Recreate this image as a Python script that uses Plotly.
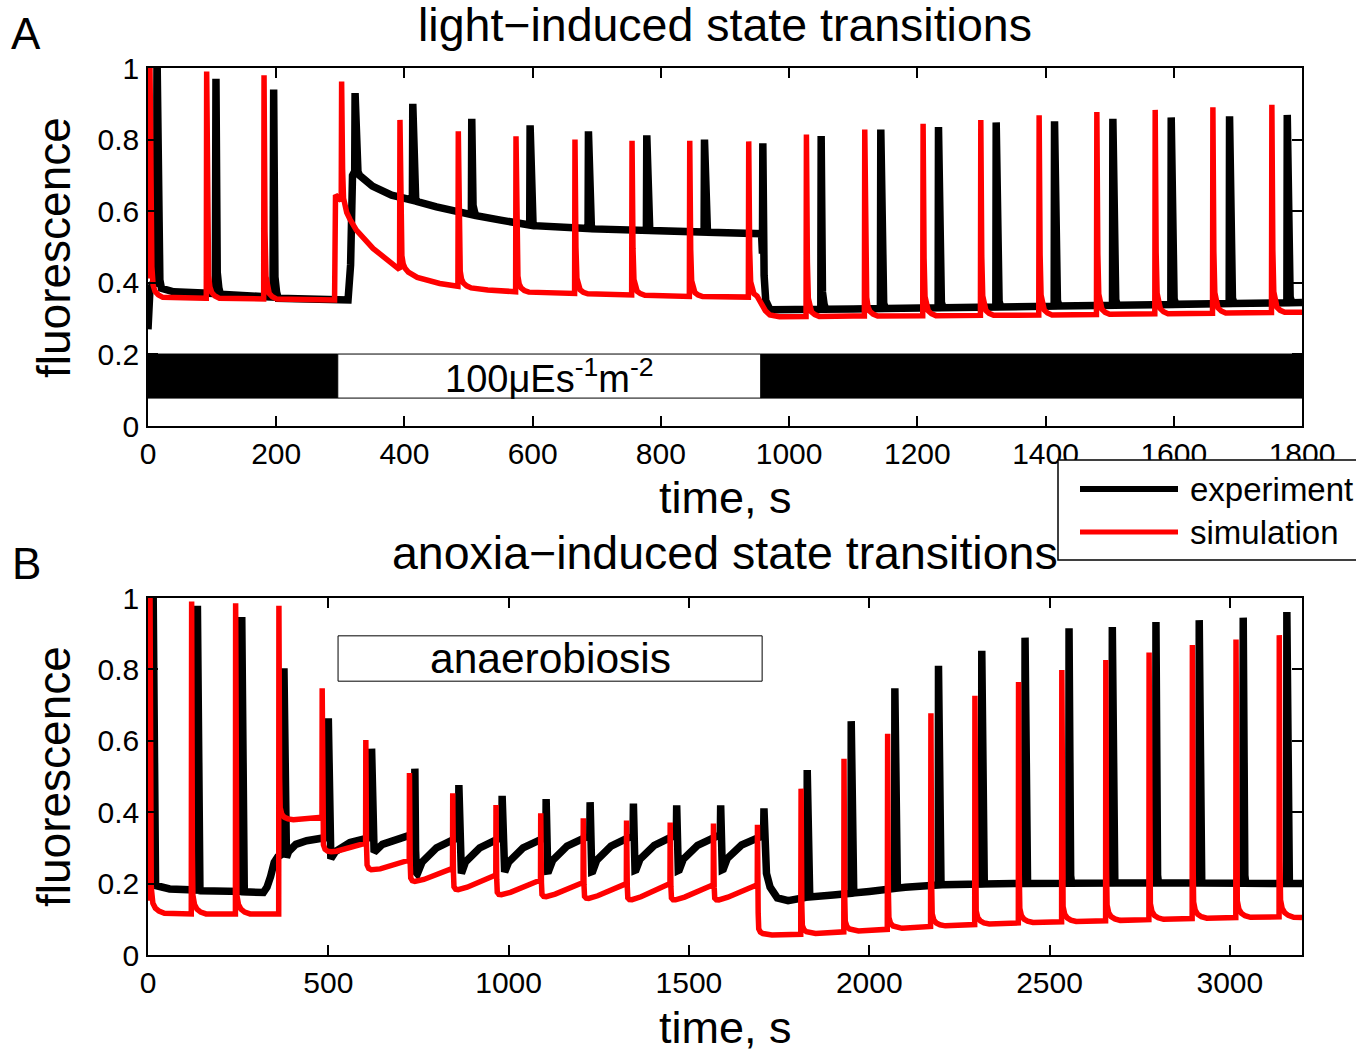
import numpy as np
import plotly.graph_objects as go

# ---------------- data ----------------
# Panel A: light-induced state transitions
A_EXP_BASE_T = [0, 3, 8, 13, 20, 40, 105, 110, 195, 200, 312, 316, 319, 322, 330, 350, 380, 410, 450, 505,
                550, 600, 700, 800, 900, 957, 962, 970, 1100, 1300, 1500, 1800]
A_EXP_BASE_V = [0.27, 0.38, 0.40, 0.40, 0.385, 0.375, 0.37, 0.368, 0.36, 0.357, 0.352, 0.45, 0.70, 0.71, 0.70,
                0.67, 0.645, 0.632, 0.612, 0.59, 0.575, 0.56, 0.55, 0.545, 0.54, 0.537, 0.34, 0.325, 0.327,
                0.332, 0.337, 0.345]
A_EXP_PULSE_T = [14, 106, 196, 323, 413, 505, 596, 687, 778, 868, 959, 1050, 1143, 1233, 1323, 1414, 1505,
                 1596, 1687, 1777]
A_EXP_PULSE_PEAK = [1.05, 0.97, 0.94, 0.93, 0.90, 0.858, 0.84, 0.823, 0.812, 0.80, 0.79, 0.81, 0.828, 0.835,
                    0.848, 0.851, 0.858, 0.862, 0.865, 0.869]

A_SIM_BASE_T = [0, 2.4, 8, 90, 181, 291, 292.5, 301.5, 305, 325, 351, 393, 420, 455, 484, 530, 574, 666, 755,
                845, 937, 953, 958, 963, 970, 985, 1100, 1400, 1800]
A_SIM_BASE_V = [0.42, 0.42, 0.36, 0.357, 0.355, 0.352, 0.645, 0.63, 0.60, 0.547, 0.496, 0.436, 0.415, 0.398,
                0.39, 0.38, 0.375, 0.37, 0.366, 0.362, 0.36, 0.358, 0.34, 0.322, 0.31, 0.305, 0.307, 0.31, 0.318]
A_SIM_PULSE_T = [3, 91.5, 181, 302, 393, 484, 574, 666, 755, 845, 937, 1027, 1118, 1209, 1299, 1390, 1480,
                 1571, 1661, 1753]
A_SIM_PULSE_PEAK = [1.02, 0.99, 0.98, 0.962, 0.855, 0.823, 0.809, 0.80, 0.797, 0.797, 0.795, 0.814, 0.828,
                    0.844, 0.855, 0.868, 0.877, 0.883, 0.89, 0.897]

LIGHT_ON = [296, 956]          # interval of 100 µE s-1 m-2 illumination
LIGHT_LABEL = "100μEs<sup>-1</sup>m<sup>-2</sup>"

# Panel B: anoxia-induced state transitions
B_EXP_BASE_T = [0, 13, 20, 60, 136, 145, 259, 266, 320, 330, 340, 350, 360, 376, 381, 390, 410, 440, 499, 504,
                520, 560, 619, 624, 650, 700, 739, 744, 760, 800, 861, 866, 880, 920, 981, 986, 1000, 1040,
                1103, 1108, 1122, 1162, 1225, 1230, 1244, 1284, 1345, 1350, 1364, 1404, 1465, 1470, 1484,
                1524, 1587, 1592, 1606, 1646, 1707, 1712, 1725, 1745, 1775, 1810, 1827, 1900, 2000, 2100,
                2200, 2400, 2800, 3200]
B_EXP_BASE_V = [0.20, 0.20, 0.195, 0.185, 0.182, 0.18, 0.178, 0.177, 0.175, 0.19, 0.22, 0.26, 0.275, 0.285,
                0.265, 0.29, 0.31, 0.32, 0.33, 0.265, 0.29, 0.315, 0.33, 0.285, 0.31, 0.33, 0.34, 0.22, 0.26,
                0.30, 0.33, 0.22, 0.26, 0.30, 0.33, 0.225, 0.26, 0.30, 0.33, 0.228, 0.265, 0.305, 0.335, 0.226,
                0.265, 0.305, 0.335, 0.23, 0.268, 0.307, 0.337, 0.23, 0.268, 0.307, 0.337, 0.232, 0.27, 0.308,
                0.335, 0.24, 0.19, 0.16, 0.152, 0.158, 0.162, 0.168, 0.178, 0.19, 0.197, 0.20, 0.202, 0.20]
B_EXP_PULSE_T = [14, 137, 260, 377, 500, 620, 740, 862, 982, 1104, 1226, 1346, 1466, 1588, 1708, 1828, 1950,
                 2071, 2192, 2312, 2432, 2554, 2674, 2795, 2915, 3037, 3158]
B_EXP_PULSE_PEAK = [1.05, 0.978, 0.947, 0.803, 0.663, 0.578, 0.522, 0.476, 0.446, 0.437, 0.428, 0.424, 0.419,
                    0.419, 0.411, 0.518, 0.655, 0.747, 0.81, 0.852, 0.889, 0.915, 0.919, 0.933, 0.938, 0.945,
                    0.961]

B_SIM_BASE_T = [0, 4.9, 12, 120, 243, 362.4, 363.6, 420, 482.4, 483.6, 603.4, 604.6, 724.4, 725.6, 844.4,
                845.6, 964.4, 965.6, 1088.4, 1089.6, 1206.4, 1207.6, 1326.4, 1327.6, 1447.4, 1448.6, 1567.4,
                1568.6, 1689.4, 1691, 1810, 1930, 2050, 2170, 2290, 2414, 2534, 2656, 2776, 2896, 3017, 3137,
                3200]
B_SIM_BASE_V = [0.16, 0.16, 0.118, 0.115, 0.115, 0.115, 0.376, 0.38, 0.386, 0.28, 0.313, 0.229, 0.266, 0.196,
                0.243, 0.173, 0.224, 0.159, 0.21, 0.154, 0.203, 0.149, 0.20, 0.145, 0.20, 0.145, 0.197, 0.145,
                0.197, 0.055, 0.058, 0.065, 0.072, 0.08, 0.085, 0.09, 0.093, 0.096, 0.099, 0.102, 0.105,
                0.107, 0.105]
B_SIM_PULSE_T = [5.5, 121, 243, 363, 483, 604, 725, 845, 965, 1089, 1207, 1327, 1448, 1568, 1690, 1811, 1930,
                 2051, 2171, 2293, 2414, 2534, 2656, 2776, 2896, 3017, 3137]
B_SIM_PULSE_PEAK = [1.02, 0.99, 0.985, 0.978, 0.747, 0.602, 0.51, 0.453, 0.42, 0.397, 0.383, 0.377, 0.371,
                    0.368, 0.365, 0.466, 0.55, 0.62, 0.677, 0.726, 0.765, 0.798, 0.826, 0.847, 0.868, 0.884,
                    0.896]

ANOXIA = [527, 1703]           # anaerobiosis interval

# ---------------- pulse shapes (rendering style) ----------------
EXP_SHAPE = [(0, 1.0), (2, 0.1), (4.5, 0.03), (7, 0.0)]
SIM_SHAPE_A = [(0, 1.0), (1.5, 0.3), (3, 0.1), (5, 0.05), (8, 0.025), (13, 0.01), (20, 0.0)]
SIM_SHAPE_B = [(0, 1.0), (2, 0.2), (3.5, 0.06), (8, 0.03), (15, 0.015), (25, 0.006), (40, 0.0)]


def build(bt, bv, pt, pk, shape):
    bt = np.asarray(bt, float)
    bv = np.asarray(bv, float)
    last = max(o for o, _ in shape)
    pts = []
    for t, v in zip(bt, bv):
        if not any(p - 0.6 < t < p + last for p in pt):
            pts.append((t, v))
    for p, h in zip(pt, pk):
        pts.append((p - 0.6, float(np.interp(p - 0.6, bt, bv))))
        for o, f in shape:
            b = float(np.interp(p + o, bt, bv))
            pts.append((p + o, b + f * (h - b)))
    pts.sort(key=lambda q: q[0])
    return [q[0] for q in pts], [q[1] for q in pts]


FONT = "Liberation Sans, Arial, Helvetica, sans-serif"
BLACK_W = 7.5
RED_W = 5.5

fig = go.Figure()
for (bt, bv, pt, pk, shp, col, w, xa, ya, name) in [
    (A_EXP_BASE_T, A_EXP_BASE_V, A_EXP_PULSE_T, A_EXP_PULSE_PEAK, EXP_SHAPE, "black", BLACK_W, "x", "y", "experiment"),
    (A_SIM_BASE_T, A_SIM_BASE_V, A_SIM_PULSE_T, A_SIM_PULSE_PEAK, SIM_SHAPE_A, "#ff0000", RED_W, "x", "y", "simulation"),
    (B_EXP_BASE_T, B_EXP_BASE_V, B_EXP_PULSE_T, B_EXP_PULSE_PEAK, EXP_SHAPE, "black", BLACK_W, "x2", "y2", "experiment"),
    (B_SIM_BASE_T, B_SIM_BASE_V, B_SIM_PULSE_T, B_SIM_PULSE_PEAK, SIM_SHAPE_B, "#ff0000", RED_W, "x2", "y2", "simulation"),
]:
    xs, ys = build(bt, bv, pt, pk, shp)
    fig.add_trace(go.Scatter(x=xs, y=ys, mode="lines", name=name, xaxis=xa, yaxis=ya,
                             line=dict(color=col, width=w), showlegend=False, hoverinfo="skip"))

axis_common = dict(showline=True, linecolor="black", linewidth=1.5, mirror="ticks", ticks="inside",
                   ticklen=10, tickwidth=1.5, tickcolor="black", showgrid=False, zeroline=False,
                   tickfont=dict(family=FONT, size=30, color="black"))

YT = [0, 0.2, 0.4, 0.6, 0.8, 1]
YTT = ["0", "0.2", "0.4", "0.6", "0.8", "1"]

# plot-area geometry in pixels (for paper coordinate conversion)
L, R, T, B, W, H = 148, 54, 68, 97, 1356, 1052
PW, PH = W - L - R, H - T - B
def px(x):
    return (x - L) / PW
def py(y):
    return (H - B - y) / PH

fig.update_layout(
    width=W, height=H, margin=dict(l=L, r=R, t=T, b=B),
    paper_bgcolor="white", plot_bgcolor="white",
    font=dict(family=FONT, color="black"),
    xaxis=dict(domain=[0, 1], range=[0, 1800], anchor="y", tickvals=list(range(0, 1801, 200)),
               ticklabelstandoff=0, **axis_common),
    yaxis=dict(domain=[py(426), 1], range=[0, 1], anchor="x", tickvals=YT, ticktext=YTT,
               ticklabelstandoff=1, **axis_common),
    xaxis2=dict(domain=[0, 1], range=[0, 3200], anchor="y2", tickvals=list(range(0, 3001, 500)),
                ticklabelstandoff=0, **axis_common),
    yaxis2=dict(domain=[0, py(598)], range=[0, 1], anchor="x2", tickvals=YT, ticktext=YTT,
                ticklabelstandoff=1, **axis_common),
)

shapes = []
# light regime bar (panel A)
shapes += [
    dict(type="rect", xref="x", yref="y", x0=0, x1=LIGHT_ON[0], y0=0.078, y1=0.201,
         fillcolor="black", line=dict(color="black", width=1), layer="above"),
    dict(type="rect", xref="x", yref="y", x0=LIGHT_ON[0], x1=LIGHT_ON[1], y0=0.078, y1=0.201,
         fillcolor="white", line=dict(color="black", width=1), layer="above"),
    dict(type="rect", xref="x", yref="y", x0=LIGHT_ON[1], x1=1800, y0=0.078, y1=0.201,
         fillcolor="black", line=dict(color="black", width=1), layer="above"),
]
# anaerobiosis box (panel B)
shapes.append(dict(type="rect", xref="x2", yref="y2", x0=ANOXIA[0], x1=ANOXIA[1], y0=0.767, y1=0.894,
                   fillcolor="rgba(0,0,0,0)", line=dict(color="black", width=1), layer="above"))
# manual legend
shapes.append(dict(type="rect", xref="paper", yref="paper", x0=px(1058), x1=px(1362), y0=py(560), y1=py(460),
                   fillcolor="white", line=dict(color="black", width=1.5), layer="above"))
shapes.append(dict(type="line", xref="paper", yref="paper", x0=px(1080), x1=px(1178), y0=py(489), y1=py(489),
                   line=dict(color="black", width=6), layer="above"))
shapes.append(dict(type="line", xref="paper", yref="paper", x0=px(1080), x1=px(1178), y0=py(532), y1=py(532),
                   line=dict(color="#ff0000", width=5), layer="above"))

ann = []
def text(x, y, s, size, xanchor="center", yanchor="middle", angle=0, xref="paper", yref="paper"):
    ann.append(dict(x=x, y=y, xref=xref, yref=yref, text=s, showarrow=False, xanchor=xanchor,
                    yanchor=yanchor, textangle=angle, font=dict(family=FONT, size=size, color="black")))

text(0.5, py(25), "light−induced state transitions", 46.5)
text(0.5, py(553), "anoxia−induced state transitions", 46.5)
text(px(26), py(34), "A", 44)
text(px(26), py(563), "B", 44)
text(0.5, py(498), "time, s", 45)
text(0.5, py(1055), "time, s", 45, yanchor="bottom")
text(px(54), py(247), "fluorescence", 46, angle=-90)
text(px(54), py(776), "fluorescence", 46, angle=-90)
text(sum(LIGHT_ON) / 2, 0.14, LIGHT_LABEL, 38, xref="x", yref="y")
text(sum(ANOXIA) / 2, 0.83, "anaerobiosis", 42.5, xref="x2", yref="y2")
text(px(1188), py(489), "experiment", 33, xanchor="left")
text(px(1188), py(532), "simulation", 33, xanchor="left")

fig.update_layout(shapes=shapes, annotations=ann)

fig.write_html("out.html", config={"displayModeBar": False},
               post_script="document.body.style.margin='0';document.body.style.overflow='hidden';")
